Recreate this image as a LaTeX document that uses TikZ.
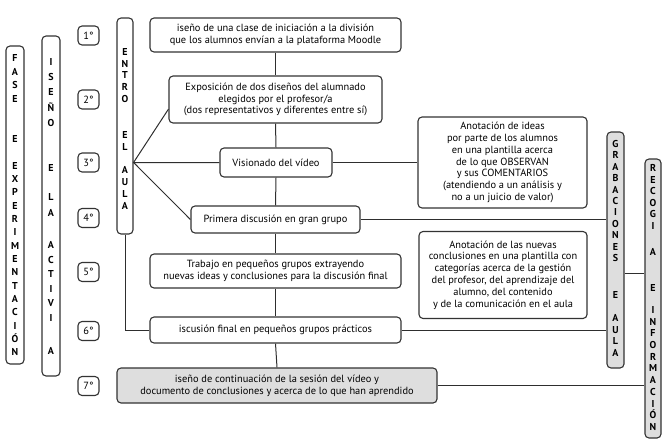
\documentclass[tikz,border=0pt]{standalone}
\usepackage{fontspec}
\setmainfont{PT Sans}
\usetikzlibrary{calc}
\newcommand\vletters[1]{\fontsize{10}{#1}\selectfont\bfseries}
\begin{document}
\begin{tikzpicture}[x=1pt,y=-1pt,
  box/.style={draw=black!80, line width=1.1pt, rounded corners=4pt, fill=white, inner sep=0pt, align=center, font=\fontsize{10.4}{11.8}\selectfont},
  gbox/.style={box, fill=black!13},
  num/.style={box, minimum width=21pt, minimum height=19pt, font=\fontsize{10.4}{12}\selectfont},
  col/.style={draw=black!80, line width=1.1pt, rounded corners=4pt, fill=white, inner sep=0pt},
  gcol/.style={col, fill=black!13},
  vt/.style={inner sep=0pt, align=center},
  conn/.style={draw=black!82, line width=1pt}
]
\useasboundingbox (0,0) rectangle (671,444);

% left columns
\node[col, minimum width=18pt, minimum height=318pt] (c1) at (15,205) {};
\node[vt, font=\vletters{13.35}] (c1a) at (15,78.5) {F\\A\\S\\E};
\node[vt, font=\vletters{13.35}] (c1b) at (15,139) {E};
\node[vt, font=\vletters{13.35}] (c1c) at (15,259) {E\\X\\P\\E\\R\\I\\M\\E\\N\\T\\A\\C\\I\\Ó\\N};

\node[col, minimum width=18pt, minimum height=340pt] (c2) at (51,206) {};
\node[vt, font=\vletters{15.3}] (c2a) at (51,92.5) {I\\S\\E\\Ñ\\O};
\node[vt, font=\vletters{12}] (c2b) at (51,168) {E};
\node[vt, font=\vletters{16}] (c2c) at (51,205) {L\\A};
\node[vt, font=\vletters{14.6}] (c2d) at (51,281.5) {A\\C\\T\\I\\V\\I};
\node[vt, font=\vletters{12}] (c2e) at (51,351) {A};

\node[col, minimum width=16pt, minimum height=216pt] (c3) at (125,126) {};
\node[vt, font=\vletters{11.8}] (c3a) at (125,75.5) {E\\N\\T\\R\\O};
\node[vt, font=\vletters{12}] (c3b) at (125,141) {E\\L};
\node[vt, font=\vletters{12}] (c3c) at (125,188) {A\\U\\L\\A};

% numbers
\node[num] (n1) at (88.5,35.5) {1°};
\node[num] (n2) at (88.5,99.5) {2°};
\node[num] (n3) at (88.5,162.5) {3°};
\node[num] (n4) at (88.5,218) {4°};
\node[num] (n5) at (88.5,272) {5°};
\node[num] (n6) at (88.5,331) {6°};
\node[num] (n7) at (88.5,386) {7°};

% main boxes
\node[box, minimum width=251pt, minimum height=34pt] (b1) at (275.5,35) {iseño de una clase de iniciación a la división\\que los alumnos envían a la plataforma Moodle};
\node[box, minimum width=213pt, minimum height=47pt] (b2) at (275.5,99.5) {Exposición de dos diseños del alumnado\\elegidos por el profesor/a\\(dos representativos y diferentes entre sí)};
\node[box, minimum width=112pt, minimum height=29pt] (b3) at (276,162.5) {Visionado del vídeo};
\node[box, minimum width=169pt, minimum height=27pt] (b4) at (275.5,219.5) {Primera discusión en gran grupo};
\node[box, minimum width=251pt, minimum height=34pt] (b5) at (275.5,271) {Trabajo en pequeños grupos extrayendo\\nuevas ideas y conclusiones para la discusión final};
\node[box, minimum width=251pt, minimum height=26pt] (b6) at (275.5,330) {iscusión final en pequeños grupos prácticos};
\node[gbox, minimum width=320pt, minimum height=35pt] (b7) at (277,385.5) {iseño de continuación de la sesión del vídeo y\\documento de conclusiones y acerca de lo que han aprendido};

\node[box, minimum width=169pt, minimum height=91pt] (a1) at (502.5,162.5) {Anotación de ideas\\por parte de los alumnos\\en una plantilla acerca\\de lo que OBSERVAN\\y sus COMENTARIOS\\(atendiendo a un análisis y\\no a un juicio de valor)};
\node[box, minimum width=168pt, minimum height=87pt] (a2) at (503,275) {Anotación de las nuevas\\conclusiones en una plantilla con\\categorías acerca de la gestión\\del profesor, del aprendizaje del\\alumno, del contenido\\y de la comunicación en el aula};

% right columns
\node[gcol, minimum width=17pt, minimum height=236pt] (gr) at (615.5,250) {};
\node[vt, font=\vletters{11.4}] (gra) at (615.5,201) {G\\R\\A\\B\\A\\C\\I\\O\\N\\E\\S};
\node[vt, font=\vletters{12}] (grb) at (615.5,295) {E};
\node[vt, font=\vletters{11.7}] (grc) at (615.5,335.5) {A\\U\\L\\A};

\node[gcol, minimum width=16pt, minimum height=279pt] (rc) at (653,298.5) {};
\node[vt, font=\vletters{11.6}] (rca) at (653,197) {R\\E\\C\\O\\G\\I};
\node[vt, font=\vletters{12}] (rcb) at (653,252) {A};
\node[vt, font=\vletters{12}] (rcc) at (653,288) {E};
\node[vt, font=\vletters{11.7}] (rcd) at (653,368.5) {I\\N\\F\\O\\R\\M\\A\\C\\I\\Ó\\N};

% connectors
\draw[conn] (b1.south) -- (b2.north);
\draw[conn] (b2.south) -- (b3.north);
\draw[conn] (b3.south) -- (b4.north);
\draw[conn] (b4.south) -- (b5.north);
\draw[conn] (b5.south) -- (b6.north);
\draw[conn] (b6.south) -- (b7.north);

\coordinate (hub) at (c3.east |- b3.west);
\coordinate (b2w) at ($(b2.south west)!0.3!(b2.north west)$);
\draw[conn] (b2w) -- (hub) -- (b3.west);
\draw[conn] (hub) -- (b4.west);
\draw[conn] (c3.south) |- (b6.west);

\draw[conn] (b3.east) -- (a1.west);
\draw[conn] (b4.east) -- (b4.east -| gr.west);
\draw[conn] (b6.east) -- (b6.east -| gr.west);
\coordinate (grr) at ($(gr.east)+(0,23)$);
\draw[conn] (grr) -- (grr -| rc.west);
\draw[conn] (b7.east) -- (b7.east -| rc.west);
\end{tikzpicture}
\end{document}
